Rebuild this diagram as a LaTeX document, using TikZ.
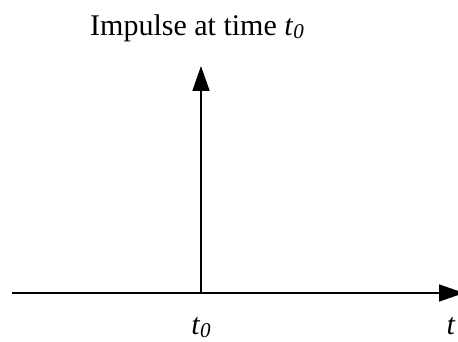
\documentclass[tikz,border=0pt]{standalone}
\usepackage{fontspec}
\setmainfont{Liberation Serif}
\usepackage{tikz}
\usetikzlibrary{arrows.meta,positioning}
\newcommand{\tsub}[1]{\raisebox{-0.07em}{\fontsize{21}{24}\selectfont\itshape #1}}
\tikzset{
  label text/.style={inner sep=0pt,font=\fontsize{30}{36}\selectfont},
  axis line/.style={line width=1.7pt,->}
}
\begin{document}
\begin{tikzpicture}[x=1pt,y=1pt,>={Triangle[length=25pt,width=17pt]}]
      \useasboundingbox (0,0) rectangle (458,342);
      \coordinate (axstart) at (12,49);
      \coordinate (axend) at (464,49);
      \coordinate (base) at (201,49);
      \coordinate (peak) at (201,276);
      \draw[axis line] (axstart)--(axend);
      \draw[axis line] (base)--(peak);
      \node[label text,anchor=base west] (title) at (90,306) {Impulse at time \textit{t}\tsub{0}};
      \node[label text,anchor=base] (tzero) at (201,7) {\textit{t}\tsub{0}};
      \node[label text,anchor=base] (tlab) at (451,7) {\textit{t}};
    \end{tikzpicture}
\end{document}
